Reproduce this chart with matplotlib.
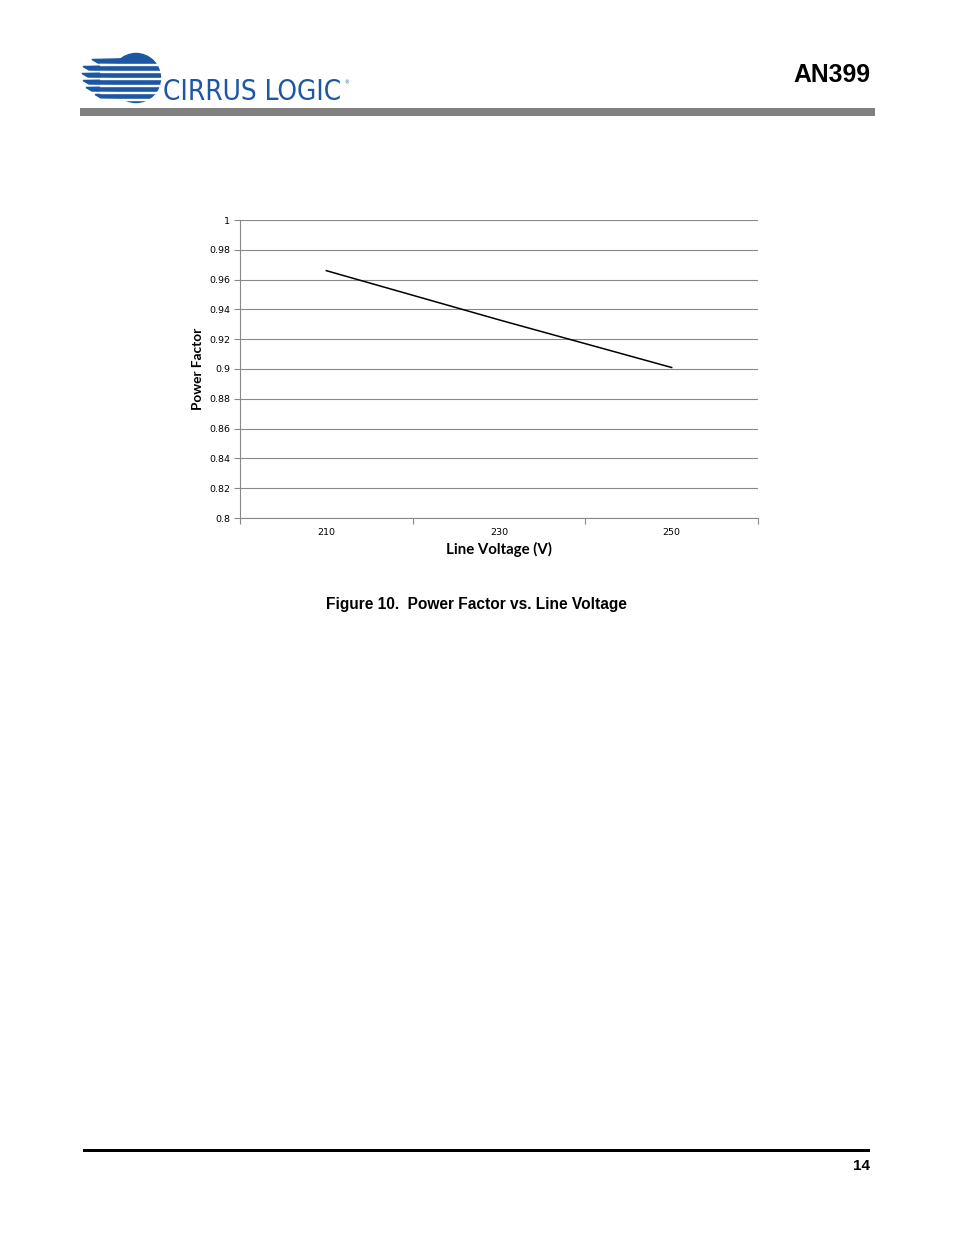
import matplotlib
matplotlib.use("Agg")
import matplotlib.pyplot as plt
from matplotlib.patches import Rectangle, Circle, Polygon

# data
voltages = ["210", "230", "250"]
power_factor = [0.966, 0.933, 0.901]
y_ticks = [0.8, 0.82, 0.84, 0.86, 0.88, 0.9, 0.92, 0.94, 0.96, 0.98, 1.0]
y_tick_labels = ["0.8", "0.82", "0.84", "0.86", "0.88", "0.9", "0.92", "0.94", "0.96", "0.98", "1"]

W, H = 954, 1235
fig = plt.figure(figsize=(W / 100, H / 100), dpi=100)

# page decorations in pixel coordinates
page = fig.add_axes([0, 0, 1, 1])
page.set_xlim(0, W)
page.set_ylim(H, 0)
page.axis("off")

blue = "#1d56a5"
# logo globe: circle cut by thin white stripes, bars running off to the left
page.add_patch(Circle((136, 78), 24.5, color=blue, zorder=1))
stripe_y = [63.5, 70.5, 77.5, 84.5, 91.5, 98.5]
for y in stripe_y:
    page.add_patch(Rectangle((100, y), 70, 1.6, color="white", zorder=2))
bars = [(58.5, 92), (65.5, 83), (72.5, 82), (79.5, 83), (86.5, 86), (93.5, 95)]
for y, x0 in bars:
    page.add_patch(Polygon([(x0, y + 1), (136, y), (136, y + 5), (x0 + 6, y + 4.5)],
                           closed=True, color=blue, zorder=1.5))
page.text(163, 92.5, "CIRRUS LOGIC", color=blue, fontsize=20, family="DejaVu Sans",
          fontstretch="condensed", va="center", ha="left")
page.text(344.5, 83, "®", color=blue, fontsize=3.5, va="center", ha="left")

page.text(870, 75, "AN399", fontsize=17.8, fontweight="bold", family="Liberation Sans",
          ha="right", va="center")
page.add_patch(Rectangle((80, 108), 795, 8, color="#808080", lw=0))
page.add_patch(Rectangle((83, 1148.5), 787, 3, color="black", lw=0))
page.text(870, 1166, "14", fontsize=11, fontweight="bold", family="Liberation Sans",
          ha="right", va="center")
page.text(476, 605, "Figure 10.  Power Factor vs. Line Voltage", fontsize=11.2,
          fontweight="bold", family="Liberation Sans", ha="center", va="center")

# chart
ax = fig.add_axes([240 / W, 1 - 518 / H, 518 / W, 298 / H])
x = list(range(len(voltages)))
ax.plot(x, power_factor, color="black", lw=1.1, zorder=3)
ax.set_xlim(-0.5, len(voltages) - 0.5)
ax.set_ylim(0.8, 1.0)
ax.set_yticks(y_ticks)
ax.set_yticklabels(y_tick_labels)
ax.set_xticks(x)
ax.set_xticklabels(voltages)
ax.set_xticks([i - 0.5 for i in range(len(voltages) + 1)], minor=True)
ax.tick_params(axis="x", which="major", length=0, pad=7, labelsize=6.8)
ax.tick_params(axis="x", which="minor", length=4, color="#888888", width=0.8)
ax.tick_params(axis="y", length=4, color="#888888", width=0.8, pad=3, labelsize=6.8)
for t in ax.get_xticklabels() + ax.get_yticklabels():
    t.set_family("DejaVu Sans")
ax.grid(axis="y", color="#888888", lw=0.8)
ax.set_axisbelow(True)
for s in ["top", "right"]:
    ax.spines[s].set_visible(False)
for s in ["left", "bottom"]:
    ax.spines[s].set_color("#888888")
    ax.spines[s].set_linewidth(0.8)
ax.set_xlabel("Line Voltage (V)", fontsize=10.8, fontweight="bold", family="Lato", labelpad=4)
ax.set_ylabel("Power Factor", fontsize=9.8, fontweight="bold", family="Lato", labelpad=4)

fig.savefig("out.png", dpi=100)
